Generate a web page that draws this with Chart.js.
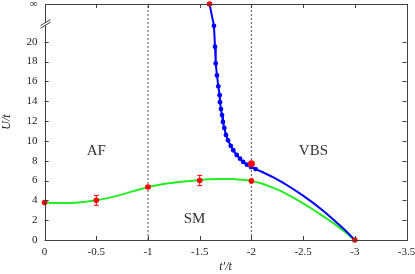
<!DOCTYPE html>
<html>
<head>
<meta charset="utf-8">
<script src="https://cdn.jsdelivr.net/npm/chart.js@4/dist/chart.umd.min.js"></script>
<style>
  html, body { margin: 0; padding: 0; background: #fff; }
  #wrap { width: 415px; height: 274px; }
</style>
</head>
<body>
<div id="wrap"><canvas id="chart" width="415" height="274"></canvas></div>
<script>
// ------------------- Data -------------------
const yInf = 23.8; // where the "infinity" row sits on the axis
const yTicks = [0, 2, 4, 6, 8, 10, 12, 14, 16, 18, 20];
const xTicks = [0, -0.5, -1, -1.5, -2, -2.5, -3, -3.5];

const greenT = [0, -0.1, -0.2, -0.3, -0.4, -0.5, -0.6, -0.7, -0.8, -0.9, -1.0, -1.1, -1.2, -1.3, -1.4, -1.5,
  -1.6, -1.7, -1.8, -1.9, -2.0, -2.1, -2.2, -2.3, -2.4, -2.5, -2.6, -2.7, -2.8, -2.9, -3.0];
const greenU = [3.78, 3.74, 3.73, 3.76, 3.85, 4.0, 4.2, 4.45, 4.75, 5.05, 5.33, 5.55, 5.72, 5.85, 5.95, 6.05,
  6.12, 6.16, 6.15, 6.08, 5.96, 5.7, 5.3, 4.85, 4.3, 3.7, 3.05, 2.35, 1.65, 0.85, 0];

const blueT = [-1.595, -1.638, -1.648, -1.655, -1.667, -1.68, -1.693, -1.696, -1.706, -1.716, -1.725, -1.738,
  -1.754, -1.774, -1.80, -1.825, -1.858, -1.89, -1.92, -1.957, -1.996, -2.04, -2.1, -2.2, -2.3, -2.4, -2.5,
  -2.6, -2.7, -2.8, -2.9, -3.0];
const blueU = [yInf, 21.6, 19.5, 17.8, 16.6, 15.5, 14.6, 13.9, 13.2, 12.6, 11.9, 11.3,
  10.6, 10.05, 9.5, 9.05, 8.57, 8.2, 7.87, 7.6, 7.37, 7.15, 6.88, 6.38, 5.82, 5.17, 4.47,
  3.72, 2.9, 2.0, 1.05, 0];
const blueDots = 22; // points with a marker (index 1 .. 21)

const redT = [0, -0.5, -1, -1.5, -2, -2, -1.595, -3];
const redU = [3.78, 4.0, 5.35, 6.0, 5.96, 7.7, yInf, 0];
const redErr = [0, 0.5, 0.15, 0.52, 0, 0, 0, 0];

const phaseLabels = ["AF", "VBS", "SM"];
const phaseT = [-0.5, -2.6, -1.45];
const phaseU = [9, 9, 2.1];

const vLines = [-1, -2];

// ------------------- Helper -------------------
function pts(xs, ys) {
  return xs.map((x, i) => ({ x: x, y: ys[i] }));
}

const axisColor = "#404040";
const serif = "'Liberation Serif', 'DejaVu Serif', serif";

// ------------------- Plugins -------------------
const framePlugin = {
  id: "frame",
  afterDatasetsDraw(chart) {
    const ctx = chart.ctx;
    const a = chart.chartArea;
    const xs = chart.scales.x, ys = chart.scales.y;
    ctx.save();

    // error bars
    ctx.strokeStyle = "#ff0000";
    ctx.lineWidth = 1;
    redT.forEach((t, i) => {
      if (!redErr[i]) return;
      const px = xs.getPixelForValue(t);
      const p1 = ys.getPixelForValue(redU[i] + redErr[i]);
      const p2 = ys.getPixelForValue(redU[i] - redErr[i]);
      ctx.beginPath();
      ctx.moveTo(px, p1); ctx.lineTo(px, p2);
      ctx.moveTo(px - 2.5, p1); ctx.lineTo(px + 2.5, p1);
      ctx.moveTo(px - 2.5, p2); ctx.lineTo(px + 2.5, p2);
      ctx.stroke();
    });

    // box
    ctx.strokeStyle = axisColor;
    ctx.lineWidth = 1;
    ctx.strokeRect(Math.round(a.left) + 0.5, Math.round(a.top) + 0.5,
      Math.round(a.right - a.left), Math.round(a.bottom - a.top));

    // inward ticks
    ctx.beginPath();
    xTicks.forEach(t => {
      const px = Math.round(xs.getPixelForValue(t)) + 0.5;
      ctx.moveTo(px, a.bottom); ctx.lineTo(px, a.bottom - 4);
      ctx.moveTo(px, a.top); ctx.lineTo(px, a.top + 4);
    });
    yTicks.forEach(v => {
      const py = Math.round(ys.getPixelForValue(v)) + 0.5;
      ctx.moveTo(a.left, py); ctx.lineTo(a.left + 4, py);
      ctx.moveTo(a.right, py); ctx.lineTo(a.right - 4, py);
    });
    ctx.stroke();

    // axis break
    const bx = Math.round(a.left) + 0.5;
    const by = ys.getPixelForValue(21.8);
    ctx.fillStyle = "#fff";
    ctx.fillRect(bx - 2, by - 1.3, 4, 2.6);
    ctx.beginPath();
    ctx.moveTo(bx - 5, by - 1.3 + 3); ctx.lineTo(bx + 5, by - 1.3 - 3);
    ctx.moveTo(bx - 5, by + 1.3 + 3); ctx.lineTo(bx + 5, by + 1.3 - 3);
    ctx.stroke();

    // phase names
    ctx.fillStyle = "#333";
    ctx.font = "15px " + serif;
    ctx.textAlign = "center";
    ctx.textBaseline = "middle";
    phaseLabels.forEach((s, i) => {
      ctx.fillText(s, xs.getPixelForValue(phaseT[i]), ys.getPixelForValue(phaseU[i]));
    });
    ctx.restore();
  }
};

// ------------------- Chart -------------------
new Chart(document.getElementById("chart"), {
  type: "line",
  data: {
    datasets: [
      ...vLines.map(v => ({
        data: pts([v, v], [0, yInf]),
        borderColor: "#555",
        borderWidth: 1,
        borderDash: [2, 2],
        pointRadius: 0,
        order: 5
      })),
      {
        data: pts(greenT, greenU),
        borderColor: "#22ee22",
        borderWidth: 2,
        pointRadius: 0,
        cubicInterpolationMode: "monotone",
        order: 4
      },
      {
        data: pts(blueT, blueU),
        borderColor: "#0000ff",
        backgroundColor: "#0000ff",
        borderWidth: 2,
        pointRadius: ctx => (ctx.dataIndex > 0 && ctx.dataIndex < blueDots ? 2.4 : 0),
        pointBorderWidth: 0,
        tension: 0,
        order: 3
      },
      {
        data: pts(redT, redU),
        showLine: false,
        backgroundColor: "#ff0000",
        borderColor: "#ff0000",
        pointRadius: ctx => (ctx.dataIndex === 5 ? 3.5 : 2.8),
        pointBorderWidth: 0,
        clip: false,
        order: 1
      }
    ]
  },
  options: {
    responsive: false,
    animation: false,
    layout: { padding: { left: 0, right: 8.5, top: 3, bottom: 0 } },
    plugins: { legend: { display: false }, tooltip: { enabled: false } },
    scales: {
      x: {
        type: "linear",
        reverse: true,
        min: -3.5,
        max: 0,
        afterBuildTicks: s => { s.ticks = xTicks.map(v => ({ value: v })); },
        afterFit: s => { s.height = 34; s.paddingLeft = 0; s.paddingRight = 0; },
        grid: { display: false, drawTicks: false },
        border: { display: false },
        ticks: {
          padding: 6,
          color: "#222",
          font: { family: serif, size: 11 },
          maxRotation: 0,
          callback: v => String(v)
        },
        title: {
          display: true,
          text: "t′/t",
          color: "#222",
          font: { family: serif, size: 12, style: "italic" },
          padding: { top: 0, bottom: 0 }
        }
      },
      y: {
        type: "linear",
        min: 0,
        max: yInf,
        afterBuildTicks: s => { s.ticks = yTicks.concat([yInf]).map(v => ({ value: v })); },
        afterFit: s => { s.width = 44.6; s.paddingTop = 0; s.paddingBottom = 0; },
        grid: { display: false, drawTicks: false },
        border: { display: false },
        ticks: {
          padding: 7,
          color: "#222",
          font: { family: serif, size: 11 },
          callback: v => (v > 21 ? "∞" : String(v))
        },
        title: {
          display: true,
          text: "U/t",
          color: "#222",
          font: { family: serif, size: 12, style: "italic" },
          padding: { top: 0, bottom: 0 }
        }
      }
    }
  },
  plugins: [framePlugin]
});
</script>
</body>
</html>
